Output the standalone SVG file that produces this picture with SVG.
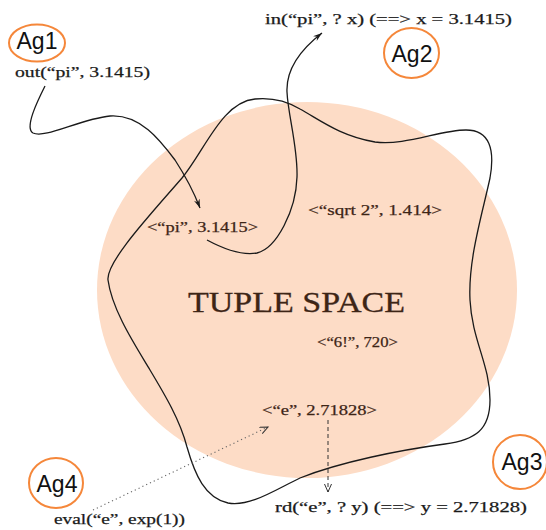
<svg xmlns="http://www.w3.org/2000/svg" width="546" height="530" viewBox="0 0 546 530">
<style>
.ag{fill:none;stroke:#f5873a;stroke-width:2}
.agt{font-family:"Liberation Sans",Arial,sans-serif;font-size:23px;fill:#111}
.lbl{font-family:"Liberation Serif","Times New Roman",serif;font-size:15px;fill:#1a1a1a;stroke:#1a1a1a;stroke-width:0.25}
.tup{font-family:"Liberation Serif","Times New Roman",serif;font-size:15px;fill:#3d2516;stroke:#3d2516;stroke-width:0.25}
.big{font-size:30px;stroke-width:0.3}
.curve{fill:none;stroke:#1a1a1a;stroke-width:1.3}
</style>
<defs>
<marker id="ah" markerWidth="10" markerHeight="8" refX="9" refY="4" orient="auto" markerUnits="userSpaceOnUse">
<path d="M0,1 L9,4 L0,7 L3,4 Z" fill="#1a1a1a"/>
</marker>
<marker id="oh" markerWidth="10" markerHeight="8" refX="8" refY="4" orient="auto" markerUnits="userSpaceOnUse">
<path d="M0,0.5 L8,4 L0,7.5" fill="none" stroke="#333" stroke-width="1"/>
</marker>
</defs>
<rect width="546" height="530" fill="#fff"/>
<g id="tuplespace">
<ellipse cx="307" cy="290" rx="210" ry="188" fill="#fddcc6"/>
<text class="tup big" x="188" y="312" textLength="217" lengthAdjust="spacingAndGlyphs">TUPLE SPACE</text>
<text class="tup" x="147" y="232" textLength="111" lengthAdjust="spacingAndGlyphs">&lt;“pi”, 3.1415&gt;</text>
<text class="tup" x="308" y="215" textLength="134" lengthAdjust="spacingAndGlyphs">&lt;“sqrt 2”, 1.414&gt;</text>
<text class="tup" x="317" y="347" textLength="81" lengthAdjust="spacingAndGlyphs">&lt;“6!”, 720&gt;</text>
<text class="tup" x="262" y="415" textLength="115" lengthAdjust="spacingAndGlyphs">&lt;“e”, 2.71828&gt;</text>
</g>
<g id="connectors">
<path class="curve" d="M108 280 C106 262 150 215 182 178 C205 150 222 102 255 99 C275 97 290 103 300 109 C320 120 340 136 375 142 C405 146 440 130 466 130 C490 130 495 150 490 178 C482 215 468 260 470 300 C472 340 490 365 490 400 C490 430 475 440 445 444 C400 450 340 462 300 478 C275 490 250 507 228 503 C205 498 195 475 187 447 C180 420 165 395 150 370 C135 345 112 310 108 280 Z"/>
<path class="curve" d="M45 86 C38 100 24 128 33 133 C45 139 80 119 110 116 C140 114 160 140 175 160 C188 180 195 195 200 208" marker-end="url(#ah)"/>
<path class="curve" d="M207 240 C220 247 240 256 257 253 C277 248 296 210 297 177 C298 148 288 115 287 92 C286 70 300 50 322 33" marker-end="url(#ah)"/>
<path d="M93 510 L268 427" fill="none" stroke="#666" stroke-width="1.1" stroke-dasharray="1.2 3" marker-end="url(#oh)"/>
<path d="M328 420 L328 492" fill="none" stroke="#333" stroke-width="1" stroke-dasharray="4 3" marker-end="url(#oh)"/>
</g>
<g id="ag1">
<ellipse class="ag" cx="37" cy="43" rx="28" ry="18.5"/>
<text class="agt" x="37" y="49" text-anchor="middle">Ag1</text>
<text class="lbl" x="15" y="77" textLength="135" lengthAdjust="spacingAndGlyphs">out(“pi”, 3.1415)</text>
</g>
<g id="ag2">
<ellipse class="ag" cx="411.5" cy="53" rx="27.5" ry="25"/>
<text class="agt" x="412" y="62" text-anchor="middle">Ag2</text>
<text class="lbl" x="265" y="24" textLength="247" lengthAdjust="spacingAndGlyphs">in(“pi”, ? x) (==&gt; x = 3.1415)</text>
</g>
<g id="ag3">
<ellipse class="ag" cx="520" cy="462" rx="27" ry="27"/>
<text class="agt" x="522" y="470" text-anchor="middle">Ag3</text>
<text class="lbl" x="275" y="512" textLength="252" lengthAdjust="spacingAndGlyphs">rd(“e”, ? y) (==&gt; y = 2.71828)</text>
</g>
<g id="ag4">
<ellipse class="ag" cx="56" cy="483" rx="27" ry="25"/>
<text class="agt" x="57" y="492" text-anchor="middle">Ag4</text>
<text class="lbl" x="54" y="524" textLength="131" lengthAdjust="spacingAndGlyphs">eval(“e”, exp(1))</text>
</g>
</svg>
